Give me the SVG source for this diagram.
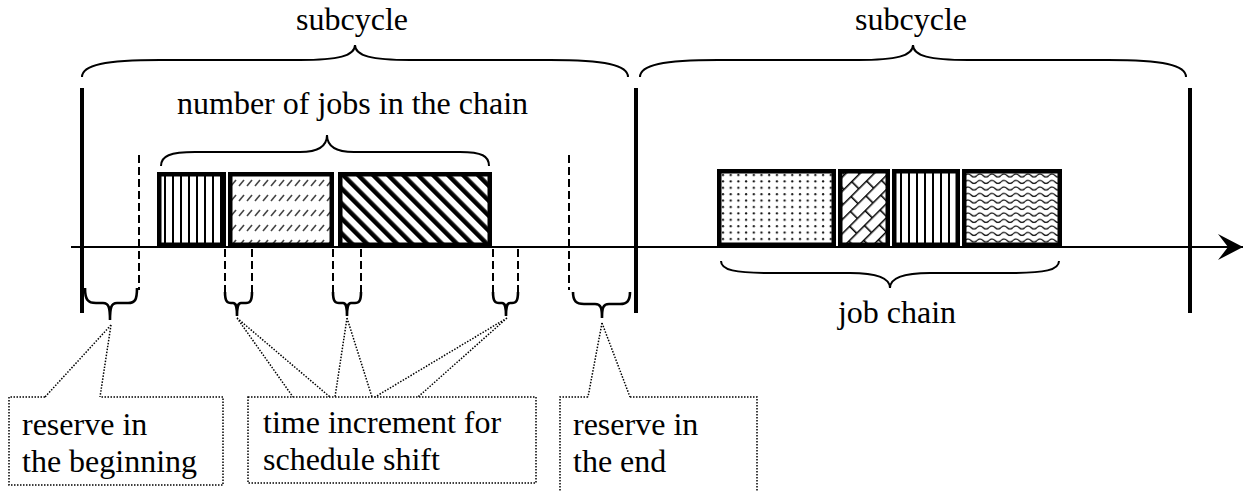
<svg xmlns="http://www.w3.org/2000/svg" width="1243" height="492" viewBox="0 0 1243 492">
<style>
text{font-family:"Liberation Serif","Times New Roman",serif;font-size:32px;fill:#000}
.job{stroke:#000;stroke-width:4.5}
.bar{stroke:#000;stroke-width:4}
.brace{fill:none;stroke:#000;stroke-width:2}
.sbrace{fill:none;stroke:#000;stroke-width:2.6}
.dash{stroke:#000;stroke-width:2;stroke-dasharray:8 4;fill:none}
.dot{stroke:#000;stroke-width:1.5;stroke-dasharray:1.5 1.5;fill:none}
</style>
<defs>
<pattern id="pVert" width="8" height="8" patternUnits="userSpaceOnUse" x="1">
<rect width="8" height="8" fill="#fff"/><rect x="3" y="0" width="2" height="8" fill="#000"/>
</pattern>
<pattern id="pDashDiag" width="8" height="15" patternUnits="userSpaceOnUse" x="230" y="176">
<rect width="8" height="15" fill="#fff"/><line x1="1" y1="10" x2="6" y2="4" stroke="#444" stroke-width="1.6"/>
</pattern>
<pattern id="pWide" width="10.6" height="10" patternUnits="userSpaceOnUse" patternTransform="rotate(-45)">
<rect width="10.6" height="10" fill="#fff"/><rect x="0" y="0" width="4.5" height="10" fill="#000"/>
</pattern>
<pattern id="pDots" width="7.7" height="6.4" patternUnits="userSpaceOnUse" x="720" y="172">
<rect width="7.7" height="6.4" fill="#fff"/><circle cx="3" cy="3" r="1.1" fill="#111"/>
</pattern>
<pattern id="pBrick" width="22" height="20" patternUnits="userSpaceOnUse" patternTransform="rotate(-45)">
<rect width="22" height="20" fill="#fff"/>
<path d="M0,0.75H22M0,10.75H22M0.75,0V10M11.75,10V20" stroke="#000" stroke-width="1.6" fill="none"/>
</pattern>
<pattern id="pWave" width="12" height="6.5" patternUnits="userSpaceOnUse" x="965" y="172">
<rect width="12" height="6.5" fill="#fff"/><path d="M0,3.5Q3,0.5 6,3.5T12,3.5" stroke="#000" stroke-width="1.2" fill="none"/>
</pattern>
<marker id="arr" viewBox="0 0 25 26" refX="25" refY="13" markerWidth="25" markerHeight="26" markerUnits="userSpaceOnUse" orient="auto">
<path d="M25,13L0,0L10,13L0,26Z" fill="#000"/>
</marker>
</defs>

<g id="connectors">
<line x1="71" y1="247" x2="1243" y2="247" stroke="#000" stroke-width="2" marker-end="url(#arr)"/>
<line class="bar" x1="82" y1="88" x2="82" y2="313"/>
<line class="bar" x1="636" y1="88" x2="636" y2="313"/>
<line class="bar" x1="1190" y1="88" x2="1190" y2="313"/>
<line class="dash" x1="139" y1="155" x2="139" y2="290"/>
<line class="dash" x1="569" y1="155" x2="569" y2="290"/>
<line class="dash" x1="225" y1="249" x2="225" y2="293"/>
<line class="dash" x1="252" y1="249" x2="252" y2="293"/>
<line class="dash" x1="333" y1="249" x2="333" y2="293"/>
<line class="dash" x1="361" y1="249" x2="361" y2="293"/>
<line class="dash" x1="493" y1="249" x2="493" y2="293"/>
<line class="dash" x1="518" y1="249" x2="518" y2="293"/>
<path class="dot" d="M111,325L45,397M111,325L100,397"/>
<path class="dot" d="M237,318L293,397M237,318L330,397"/>
<path class="dot" d="M347,318L335,397M347,318L372,397"/>
<path class="dot" d="M507,318L375,397M507,318L418,397"/>
<path class="dot" d="M602,323L588,397M602,323L630,397"/>
</g>

<g id="brace-subcycle-1">
<path class="brace" d="M82,77C82,65 105,60 160,60L300,60C338,60 355,56 355,45C355,56 372,60 410,60L550,60C605,60 628,65 628,77"/>
<text x="352" y="30" text-anchor="middle">subcycle</text>
</g>
<g id="brace-subcycle-2">
<path class="brace" d="M640,77C640,65 663,60 718,60L858,60C896,60 913,56 913,45C913,56 930,60 968,60L1108,60C1163,60 1186,65 1186,77"/>
<text x="911" y="30" text-anchor="middle">subcycle</text>
</g>
<g id="brace-number">
<path class="brace" d="M161,166C161,156 170,152 195,152L300,152C318,152 327,146 327,135C327,146 336,152 354,152L460,152C482,152 489,156 489,166"/>
<text x="177" y="114">number of jobs in the chain</text>
</g>
<g id="brace-jobchain">
<path class="brace" d="M721,261C721,270 735,273 770,273L850,273C878,273 890,278 890,288C890,278 902,273 930,273L1010,273C1045,273 1059,270 1059,261"/>
<text x="897" y="323" text-anchor="middle">job chain</text>
</g>

<g id="jobs-left">
<rect class="job" x="159.25" y="174.25" width="64.5" height="70.5" fill="url(#pVert)"/>
<rect class="job" x="230.25" y="174.25" width="101.5" height="70.5" fill="url(#pDashDiag)"/>
<rect class="job" x="340.25" y="174.25" width="149.5" height="70.5" fill="url(#pWide)"/>
</g>
<g id="jobs-right">
<rect class="job" x="719.25" y="171.25" width="114.5" height="73.5" fill="url(#pDots)"/>
<rect class="job" x="840.25" y="171.25" width="47.5" height="73.5" fill="url(#pBrick)"/>
<rect class="job" x="894.25" y="171.25" width="63.5" height="73.5" fill="url(#pVert)"/>
<rect class="job" x="964.25" y="171.25" width="95.5" height="73.5" fill="url(#pWave)"/>
</g>

<g id="braces-small">
<path class="sbrace" d="M85,288C85,300 88,303 96,303L103,303C109,303 110,308 110,320C110,308 111,303 117,303L128,303C135,303 137,300 137,288"/>
<path class="sbrace" d="M225,292C225,301 227,303 231,303L233,303C236,303 237,306 237,316C237,306 238,303 241,303L246,303C250,303 252,301 252,292"/>
<path class="sbrace" d="M333,292C333,301 335,303 339,303L343,303C346,303 347,306 347,316C347,306 348,303 351,303L355,303C359,303 361,301 361,292"/>
<path class="sbrace" d="M493,292C493,301 495,303 499,303L502,303C505,303 506,306 506,316C506,306 507,303 510,303L512,303C516,303 518,301 518,292"/>
<path class="sbrace" d="M573,292C573,301 576,304 584,304L595,304C601,304 602,308 602,318C602,308 603,304 609,304L620,304C627,304 630,301 630,292"/>
</g>

<g id="note-begin">
<path class="dot" d="M45,397H9V485H223V397H100"/>
<text x="22" y="435">reserve in</text>
<text x="22" y="472">the beginning</text>
</g>
<g id="note-increment">
<rect class="dot" x="248" y="397" width="288" height="86"/>
<text x="263" y="433">time increment for</text>
<text x="263" y="470">schedule shift</text>
</g>
<g id="note-end">
<path class="dot" d="M588,397H560V495M630,397H757V495"/>
<text x="573" y="435">reserve in</text>
<text x="573" y="472">the end</text>
</g>
</svg>
